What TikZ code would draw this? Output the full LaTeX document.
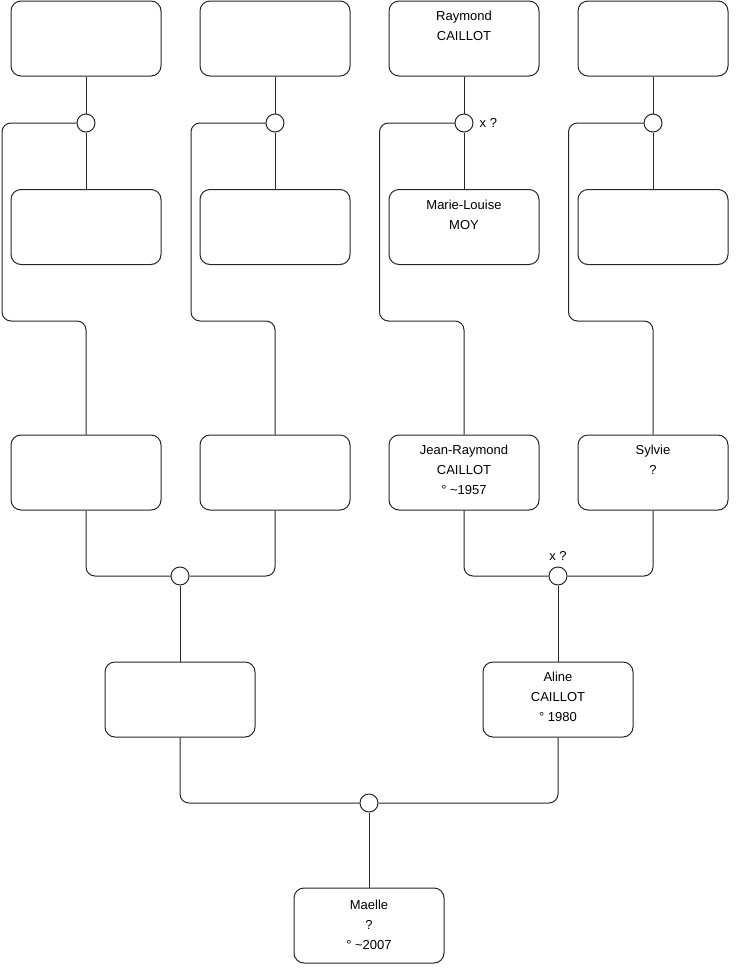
\documentclass[tikz,border=0pt]{standalone}
\usepackage{fontspec}
\setmainfont{Liberation Sans}
\begin{document}
\begin{tikzpicture}[x=1pt,y=-1pt,
  box/.style={draw=black!85,line width=1pt,rounded corners=10pt,minimum width=150pt,minimum height=75pt,inner sep=0pt,fill=white},
  txt/.style={anchor=north,align=center,inner sep=0pt,font=\fontsize{13}{20}\selectfont},
  knot/.style={circle,draw=black!85,line width=1pt,fill=white,minimum size=18pt,inner sep=0pt},
  link/.style={draw=black!85,line width=1pt,rounded corners=9pt},
  note/.style={inner sep=0pt,font=\fontsize{13}{15}\selectfont}]
\useasboundingbox (0,0) rectangle (740,975);
% boxes
\node[box] (r1c1) at (86,38.5) {};
\node[box] (r1c2) at (275,38.5) {};
\node[box] (r1c3) at (464,38.5) {};
\node[box] (r1c4) at (653,38.5) {};
\node[box] (r2c1) at (86,227) {};
\node[box] (r2c2) at (275,227) {};
\node[box] (r2c3) at (464,227) {};
\node[box] (r2c4) at (653,227) {};
\node[box] (r3c1) at (86,472.5) {};
\node[box] (r3c2) at (275,472.5) {};
\node[box] (r3c3) at (464,472.5) {};
\node[box] (r3c4) at (653,472.5) {};
\node[box] (r4c1) at (180,699.5) {};
\node[box] (r4c2) at (558,699.5) {};
\node[box] (r5) at (369,925.5) {};
% texts
\node[txt] (t13) at ([yshift=-10.5pt]r1c3.north) {Raymond\\CAILLOT};
\node[txt] (t23) at ([yshift=-10.5pt]r2c3.north) {Marie-Louise\\MOY};
\node[txt] (t33) at ([yshift=-10.5pt]r3c3.north) {Jean-Raymond\\CAILLOT\\° \textasciitilde1957};
\node[txt] (t34) at ([yshift=-10.5pt]r3c4.north) {Sylvie\\?};
\node[txt] (t42) at ([yshift=-10.5pt]r4c2.north) {Aline\\CAILLOT\\° 1980};
\node[txt] (t5) at ([yshift=-12.5pt]r5.north) {Maelle\\?\\° \textasciitilde2007};
% union knots
\node[knot] (k1) at (86,123) {};
\node[knot] (k2) at (275,123) {};
\node[knot] (k3) at (464,123) {};
\node[knot] (k4) at (653,123) {};
\node[knot] (kL) at (180,576) {};
\node[knot] (kR) at (558,576) {};
\node[knot] (kB) at (369,803) {};
% connectors
\foreach \c/\lx in {1/2,2/191,3/379.5,4/568.5}{
  \draw[link] (r1c\c.south) -- (k\c.north);
  \draw[link] (k\c.south) -- (r2c\c.north);
  \draw[link] (k\c.west) -- (\lx,123) -- (\lx,321) -| (r3c\c.north);
}
\draw[link] (r3c1.south) |- (kL.west);
\draw[link] (r3c2.south) |- (kL.east);
\draw[link] (kL.south) -- (r4c1.north);
\draw[link] (r3c3.south) |- (kR.west);
\draw[link] (r3c4.south) |- (kR.east);
\draw[link] (kR.south) -- (r4c2.north);
\draw[link] (r4c1.south) |- (kB.west);
\draw[link] (r4c2.south) |- (kB.east);
\draw[link] (kB.south) -- (r5.north);
% notes
\node[note,anchor=west] (n3) at ([xshift=6pt]k3.east) {x ?};
\node[note,anchor=south] (nR) at ([yshift=6pt]kR.north) {x ?};
\end{tikzpicture}
\end{document}
